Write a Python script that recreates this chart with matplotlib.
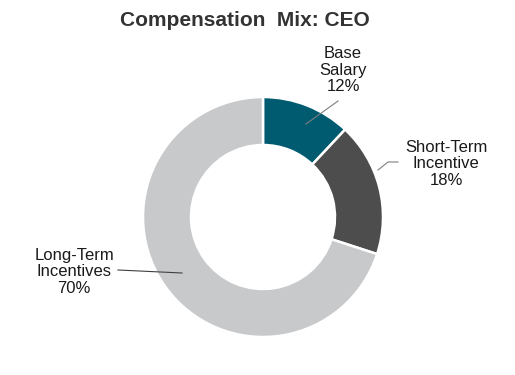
import matplotlib.pyplot as plt

plt.rcParams['font.family'] = ['Liberation Sans', 'DejaVu Sans']

labels = ['Base\nSalary', 'Short-Term\nIncentive', 'Long-Term\nIncentives']
values = [12, 18, 70]
colors = ['#005B70', '#4D4D4D', '#C8C9CB']

W, H = 515, 375
fig = plt.figure(figsize=(W / 100, H / 100), dpi=100)
ax = fig.add_axes([0, 0, 1, 1])
ax.set_xlim(0, W)
ax.set_ylim(0, H)
ax.set_aspect('equal')
ax.axis('off')

# donut, pixel coords with y flipped
cx, cy, r = 263, H - 217, 120
ax.pie(values, colors=colors, startangle=90, counterclock=False,
       center=(cx, cy), radius=r,
       wedgeprops=dict(width=48, edgecolor='white', linewidth=1.8))
ax.set_xlim(0, W)
ax.set_ylim(0, H)

ax.text(245, H - 26.5, 'Compensation  Mix: CEO', ha='center', va='baseline',
        fontsize=15, fontweight='bold', color='#333333')

tcol = '#1a1a1a'
lbl_pos = [(343, H - 70), (446, H - 164), (74, H - 272)]
for (x, y), lab, v in zip(lbl_pos, labels, values):
    ax.text(x, y, f'{lab}\n{v}%', ha='center', va='center', fontsize=12,
            color=tcol, linespacing=1.13)

lc = '#7f7f7f'
ax.plot([306, 338], [H - 124, H - 101], color=lc, lw=0.8)
ax.plot([378, 388, 398], [H - 170, H - 162, H - 162], color=lc, lw=0.8)
ax.plot([118, 182], [H - 270, H - 273], color='#404040', lw=0.8)

fig.savefig('out.png', dpi=100)
